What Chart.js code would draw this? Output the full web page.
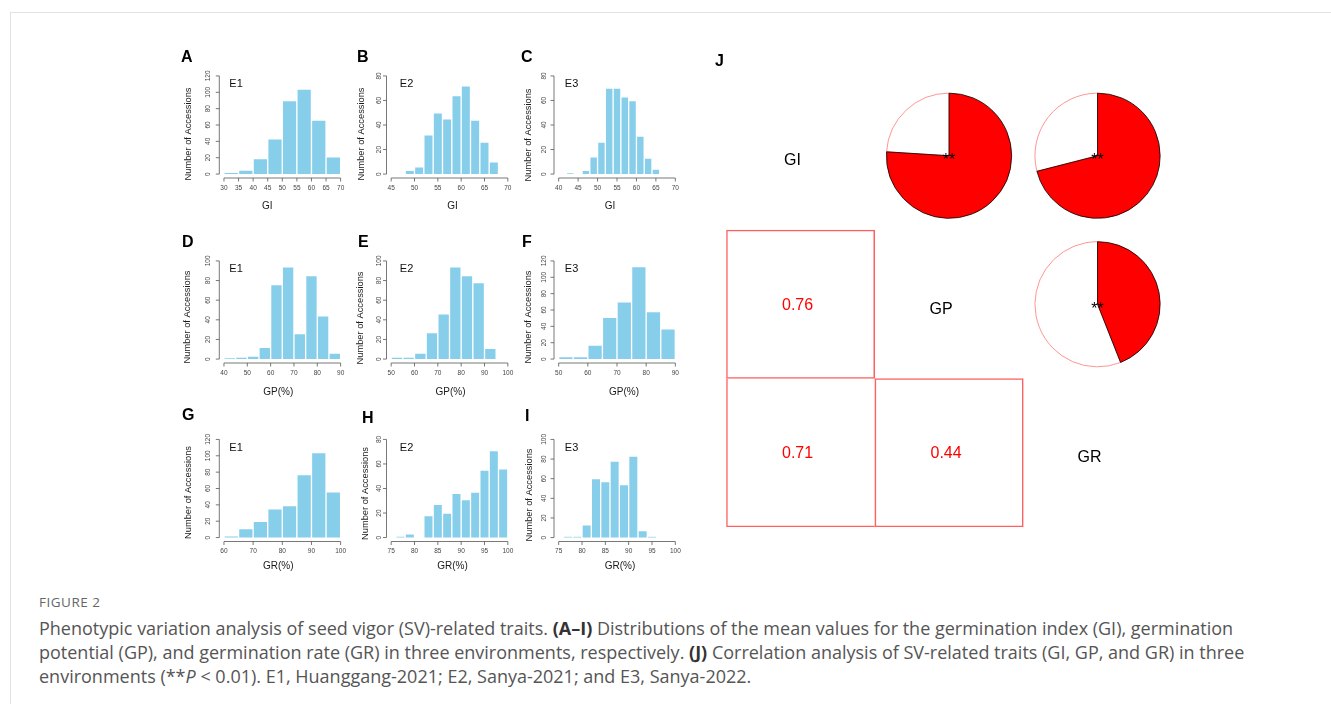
<!DOCTYPE html>
<html>
<head>
<meta charset="utf-8">
<title>Figure 2</title>
<script src="https://cdn.jsdelivr.net/npm/chart.js@4.4.1/dist/chart.umd.min.js"></script>
<style>
  html, body { margin: 0; padding: 0; background: #fff; }
  body { position: relative; width: 1331px; height: 704px; overflow: hidden; }
  .frame { position: absolute; left: 10px; top: 12px; width: 1321px; height: 692px;
           border-top: 1px solid #e2e2e2; border-left: 1px solid #e2e2e2; }
  canvas { position: absolute; }
  .tag { position: absolute; font: bold 16px "Liberation Sans", Arial, sans-serif; line-height: 16px; color: #000; }
  .figno { position: absolute; left: 39px; top: 594px; font: 13.5px/16px "Open Sans", sans-serif; color: #666; letter-spacing: 0.5px; }
  .caption { position: absolute; left: 39px; top: 615.5px; font: 18px/24px "Open Sans", sans-serif; color: #555; white-space: nowrap; }
  .caption b { color: #333; }
</style>
</head>
<body>
<div class="frame"></div>
<div class="figno">FIGURE 2</div>
<div class="caption">Phenotypic variation analysis of seed vigor (SV)-related traits. <b>(A–I)</b> Distributions of the mean values for the germination index (GI), germination<br>potential (GP), and germination rate (GR) in three environments, respectively. <b>(J)</b> Correlation analysis of SV-related traits (GI, GP, and GR) in three<br>environments (**<i>P</i> &lt; 0.01). E1, Huanggang-2021; E2, Sanya-2021; and E3, Sanya-2022.</div>
<script>
// ---- histogram data (bin edges + counts) ----
const giBreaksE1 = [30, 35, 40, 45, 50, 55, 60, 65, 70];
const giCountsE1 = [2, 5, 19, 43, 90, 104, 66, 21];
const giBreaksE2 = [48, 50, 52, 54, 56, 58, 60, 62, 64, 66, 68];
const giCountsE2 = [3, 6, 32, 50, 45, 64, 72, 44, 26, 10];
const giBreaksE3 = [42, 44, 46, 48, 50, 52, 54, 56, 58, 60, 62, 64, 66];
const giCountsE3 = [1, 0, 3, 14, 26, 70, 70, 63, 60, 31, 13, 4];
const gpBreaksE1 = [40, 45, 50, 55, 60, 65, 70, 75, 80, 85, 90];
const gpCountsE1 = [1, 2, 3, 12, 76, 94, 26, 85, 44, 6];
const gpBreaksE2 = [50, 55, 60, 65, 70, 75, 80, 85, 90, 95];
const gpCountsE2 = [2, 2, 6, 27, 46, 94, 85, 78, 11];
const gpBreaksE3 = [50, 55, 60, 65, 70, 75, 80, 85, 90];
const gpCountsE3 = [3, 3, 17, 51, 70, 113, 58, 37];
const grBreaksE1 = [60, 65, 70, 75, 80, 85, 90, 95, 100];
const grCountsE1 = [2, 11, 20, 35, 39, 77, 104, 56];
const grBreaksE2 = [76, 78, 80, 82, 84, 86, 88, 90, 92, 94, 96, 98, 100];
const grCountsE2 = [1, 3, 0, 18, 27, 20, 36, 31, 37, 55, 71, 56];
const grBreaksE3 = [76, 78, 80, 82, 84, 86, 88, 90, 92, 94, 96];
const grCountsE3 = [1, 1, 13, 60, 57, 78, 54, 83, 7, 1];

// tick labels
const yTicks80 = [0, 20, 40, 60, 80];
const yTicks100 = [0, 20, 40, 60, 80, 100];
const yTicks120 = [0, 20, 40, 60, 80, 100, 120];
const giTicksE1 = [30, 35, 40, 45, 50, 55, 60, 65, 70];
const giTicksE2 = [45, 50, 55, 60, 65, 70];
const giTicksE3 = [40, 45, 50, 55, 60, 65, 70];
const gpTicksE1 = [40, 50, 60, 70, 80, 90];
const gpTicksE2 = [50, 60, 70, 80, 90, 100];
const gpTicksE3 = [50, 60, 70, 80, 90];
const grTicksE1 = [60, 70, 80, 90, 100];
const grTicksE2 = [75, 80, 85, 90, 95, 100];
const grTicksE3 = [75, 80, 85, 90, 95, 100];

// correlation panel
const traits = ['GI', 'GP', 'GR'];
const corrPairs = [['GI', 'GP'], ['GI', 'GR'], ['GP', 'GR']];
const corrValues = [0.76, 0.71, 0.44];
const corrSignif = ['**', '**', '**'];

const panels = [
  { tag: 'A', env: 'E1', title: 'GI', breaks: giBreaksE1, counts: giCountsE1, xTicks: giTicksE1, yTicks: yTicks120 },
  { tag: 'B', env: 'E2', title: 'GI', breaks: giBreaksE2, counts: giCountsE2, xTicks: giTicksE2, yTicks: yTicks80 },
  { tag: 'C', env: 'E3', title: 'GI', breaks: giBreaksE3, counts: giCountsE3, xTicks: giTicksE3, yTicks: yTicks80 },
  { tag: 'D', env: 'E1', title: 'GP(%)', breaks: gpBreaksE1, counts: gpCountsE1, xTicks: gpTicksE1, yTicks: yTicks100 },
  { tag: 'E', env: 'E2', title: 'GP(%)', breaks: gpBreaksE2, counts: gpCountsE2, xTicks: gpTicksE2, yTicks: yTicks100 },
  { tag: 'F', env: 'E3', title: 'GP(%)', breaks: gpBreaksE3, counts: gpCountsE3, xTicks: gpTicksE3, yTicks: yTicks120 },
  { tag: 'G', env: 'E1', title: 'GR(%)', breaks: grBreaksE1, counts: grCountsE1, xTicks: grTicksE1, yTicks: yTicks120 },
  { tag: 'H', env: 'E2', title: 'GR(%)', breaks: grBreaksE2, counts: grCountsE2, xTicks: grTicksE2, yTicks: yTicks80 },
  { tag: 'I', env: 'E3', title: 'GR(%)', breaks: grBreaksE3, counts: grCountsE3, xTicks: grTicksE3, yTicks: yTicks100 }
];

// ---- layout ----
const FONT = '"Liberation Sans", Arial, sans-serif';
const PW = 126, PH = 106;                 // plot region of one histogram
const colLeft = [219.3, 386.5, 554];
const rowTop = [72, 257, 435.5];
const xTitleGap = [28, 29.7, 24.5];       // per row
const yTickGap = [11, 7.5, 10];           // per column
const envDx = [10, 13.3, 10.8];           // per column
const yTitleDx = [31, 25, 26, 32, 26, 26, 31, 21, 24.5];
const yTitleDy = [9, 9, 10, 7, 8, 7, 4, 5, 6.5];
const xTitleDx = [-15, 3, -7, -4, 1, 7, -4, 3, 3];
const tagPos = [[181, 49.2], [357, 48.5], [521, 48.9], [182, 233.9], [358, 233.9], [522, 233.5], [182, 407.2], [362, 409.9], [525, 408.2]];
const gridX = 726.3, gridY = 81.5, cell = 148.5, pieR = 63;

function addCanvas(left, top, w, h) {
  const c = document.createElement('canvas');
  c.width = w; c.height = h;
  c.style.left = left + 'px';
  c.style.top = top + 'px';
  document.body.appendChild(c);
  return c;
}

function addTag(text, x, y) {
  const d = document.createElement('div');
  d.className = 'tag';
  d.textContent = text;
  d.style.left = x + 'px';
  d.style.top = y + 'px';
  document.body.appendChild(d);
}

// R-like axes: line only over the tick range, rotated y labels
function rAxes(p, k) {
  const col = k % 3, row = Math.floor(k / 3);
  return {
    id: 'rAxes',
    afterDraw(chart) {
      const { ctx, chartArea: a, scales: { x, y } } = chart;
      const xs = p.xTicks.map(v => x.getPixelForValue(v));
      const ys = p.yTicks.map(v => y.getPixelForValue(v));
      ctx.save();
      ctx.strokeStyle = '#555';
      ctx.lineWidth = 0.8;
      ctx.beginPath();
      ctx.moveTo(xs[0], a.bottom);
      ctx.lineTo(xs[xs.length - 1], a.bottom);
      xs.forEach(px => { ctx.moveTo(px, a.bottom); ctx.lineTo(px, a.bottom + 3.5); });
      ctx.moveTo(a.left, ys[0]);
      ctx.lineTo(a.left, ys[ys.length - 1]);
      ys.forEach(py => { ctx.moveTo(a.left, py); ctx.lineTo(a.left - 3.5, py); });
      ctx.stroke();

      ctx.fillStyle = '#444';
      ctx.font = '6.5px ' + FONT;
      ctx.textAlign = 'center';
      ctx.textBaseline = 'middle';
      p.xTicks.forEach((v, i) => ctx.fillText(String(v), xs[i], a.bottom + 10));
      p.yTicks.forEach((v, i) => {
        ctx.save();
        ctx.translate(a.left - yTickGap[col], ys[i]);
        ctx.rotate(-Math.PI / 2);
        ctx.fillText(String(v), 0, 0);
        ctx.restore();
      });

      ctx.fillStyle = '#1a1a1a';
      ctx.font = '10px ' + FONT;
      ctx.fillText(p.title, (a.left + a.right) / 2 + xTitleDx[k], a.bottom + xTitleGap[row]);
      ctx.save();
      ctx.translate(a.left - yTitleDx[k], (a.top + a.bottom) / 2 + yTitleDy[k]);
      ctx.rotate(-Math.PI / 2);
      ctx.font = '9.3px ' + FONT;
      ctx.fillText('Number of Accessions', 0, 0);
      ctx.restore();

      ctx.font = '11px ' + FONT;
      ctx.textAlign = 'left';
      ctx.fillStyle = '#111';
      ctx.fillText(p.env, a.left + envDx[col], a.top + 12);
      ctx.restore();
    }
  };
}

panels.forEach((p, k) => {
  const col = k % 3, row = Math.floor(k / 3);
  const plotL = colLeft[col], plotT = rowTop[row];
  const left = Math.round(plotL - 48), top = Math.round(plotT - 30);
  const W = 180, H = 176;
  const canvas = addCanvas(left, top, W, H);
  const x0 = p.xTicks[0], x1 = p.xTicks[p.xTicks.length - 1];
  const ymax = p.yTicks[p.yTicks.length - 1];
  const mids = p.breaks.slice(0, -1).map((b, i) => (b + p.breaks[i + 1]) / 2);

  new Chart(canvas, {
    type: 'bar',
    data: {
      datasets: [{
        data: mids.map((m, i) => ({ x: m, y: p.counts[i] })),
        backgroundColor: '#87CEEB',
        borderColor: '#FFFFFF',
        borderWidth: 1,
        barPercentage: 1,
        categoryPercentage: 1
      }]
    },
    options: {
      responsive: false,
      animation: false,
      events: [],
      layout: { padding: { left: plotL - left, top: plotT - top, right: W - (plotL - left) - PW, bottom: H - (plotT - top) - PH } },
      plugins: { legend: { display: false }, tooltip: { enabled: false } },
      scales: {
        x: {
          type: 'linear', display: false, offset: false,
          min: x0 - 0.04 * (x1 - x0), max: x1 + 0.04 * (x1 - x0),
          afterBuildTicks: s => { s.ticks = p.breaks.map(v => ({ value: v })); }
        },
        y: { type: 'linear', display: false, min: -0.04 * ymax, max: 1.04 * ymax }
      }
    },
    plugins: [rAxes(p, k)]
  });

  addTag(p.tag, tagPos[k][0], tagPos[k][1]);
});

// ---- J: correlation matrix ----
addTag('J', 715, 53.2);

const lowerCells = corrPairs.map((pr, k) => ({ row: traits.indexOf(pr[1]), col: traits.indexOf(pr[0]), k }));
const mLeft = Math.round(gridX - 10), mTop = Math.round(gridY - 10);
const mSize = 466;
const mCanvas = addCanvas(mLeft, mTop, mSize, mSize);

const matrixText = {
  id: 'matrixText',
  afterDatasetsDraw(chart) {
    const { ctx, scales: { x, y } } = chart;
    ctx.save();
    ctx.font = '16px ' + FONT;
    ctx.textAlign = 'center';
    ctx.textBaseline = 'middle';
    ctx.fillStyle = '#000';
    traits.forEach((t, i) => ctx.fillText(t, x.getPixelForValue(i + 0.5) - 8, y.getPixelForValue(i + 0.5) + 5));
    ctx.fillStyle = '#FF0000';
    lowerCells.forEach(c => ctx.fillText(corrValues[c.k].toFixed(2), x.getPixelForValue(c.col + 0.5) - 3, y.getPixelForValue(c.row + 0.5) + 1));
    ctx.restore();
  }
};

new Chart(mCanvas, {
  type: 'bar',
  data: {
    datasets: lowerCells.map(c => ({
      data: [{ x: c.col + 0.5, y: [c.row, c.row + 1] }],
      backgroundColor: 'rgba(0,0,0,0)',
      borderColor: 'rgba(255,0,0,0.62)',
      borderSkipped: false,
      borderWidth: { top: c.row - 1 > c.col ? 0 : 1, right: c.col + 1 < c.row ? 0 : 1, bottom: 1, left: 1 },
      barPercentage: 1,
      categoryPercentage: 1,
      grouped: false
    }))
  },
  options: {
    responsive: false,
    animation: false,
    events: [],
    layout: { padding: { left: gridX - mLeft, top: gridY - mTop, right: mSize - (gridX - mLeft) - 3 * cell, bottom: mSize - (gridY - mTop) - 3 * cell } },
    plugins: { legend: { display: false }, tooltip: { enabled: false } },
    scales: {
      x: { type: 'linear', display: false, offset: false, min: 0, max: 3,
           afterBuildTicks: s => { s.ticks = [0, 1, 2, 3].map(v => ({ value: v })); } },
      y: { type: 'linear', display: false, min: 0, max: 3, reverse: true }
    }
  },
  plugins: [matrixText]
});

// pies in the upper triangle
corrPairs.forEach((pr, k) => {
  const row = traits.indexOf(pr[0]), col = traits.indexOf(pr[1]);
  const cx = gridX + (col + 0.5) * cell, cy = gridY + (row + 0.5) * cell;
  const size = 150;
  const left = Math.round(cx - size / 2), top = Math.round(cy - size / 2);
  const r = corrValues[k];
  const canvas = addCanvas(left, top, size, size);
  const padL = cx - left - pieR, padT = cy - top - pieR;
  new Chart(canvas, {
    type: 'pie',
    data: {
      labels: ['', pr.join('-')],
      datasets: [{
        data: [1 - r, r],
        backgroundColor: ['#FFFFFF', '#FF0000'],
        borderColor: ['#FF7A7A', '#000000'],
        borderWidth: 0.8
      }]
    },
    options: {
      responsive: false,
      animation: false,
      events: [],
      rotation: r * 360,
      layout: { padding: { left: padL, top: padT, right: size - padL - 2 * pieR, bottom: size - padT - 2 * pieR } },
      plugins: { legend: { display: false }, tooltip: { enabled: false } }
    },
    plugins: [{
      id: 'stars',
      afterDraw(chart) {
        const { ctx, chartArea: a } = chart;
        ctx.save();
        ctx.font = '16px ' + FONT;
        ctx.fillStyle = '#000';
        ctx.textAlign = 'center';
        ctx.textBaseline = 'alphabetic';
        ctx.fillText(corrSignif[k], (a.left + a.right) / 2, (a.top + a.bottom) / 2 + 9.5);
        ctx.restore();
      }
    }]
  });
});
</script>
</body>
</html>
